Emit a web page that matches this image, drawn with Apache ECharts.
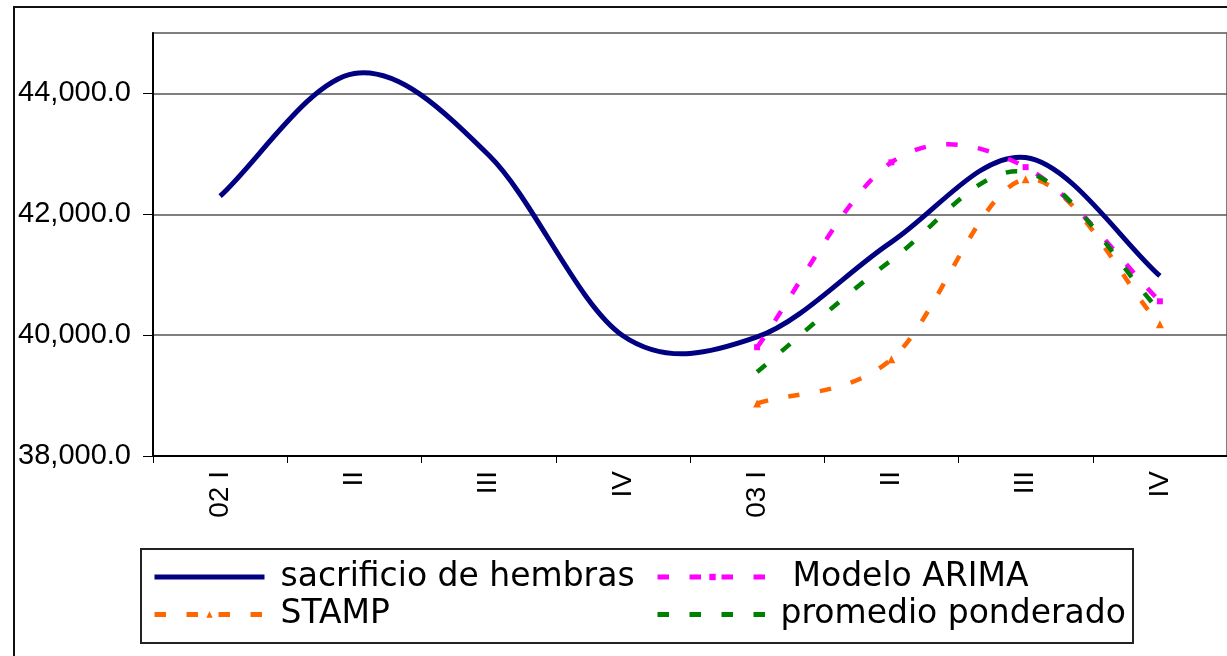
<!DOCTYPE html>
<html><head><meta charset="utf-8">
<script src="https://cdn.jsdelivr.net/npm/echarts@6/dist/echarts.min.js"></script>
<style>html,body{margin:0;padding:0;background:#fff}#c{width:1227px;height:656px}</style>
</head><body><div id="c"></div>
<script>
// ---- data ----
const categories = ['02 I', 'II', 'III', 'IV', '03 I', 'II', 'III', 'IV'];
const sacrificio = [42300, 44330, 42980, 39990, 39970, 41540, 42940, 40980];
const stamp      = [null, null, null, null, 38870, 39600, 42580, 40180];
const arima      = [null, null, null, null, 39800, 42860, 42780, 40560];
const promedio   = [null, null, null, null, 39390, 41240, 42700, 40400];
const yTicks = [38000, 40000, 42000, 44000];
const names = ['sacrificio de hembras', 'STAMP', 'Modelo ARIMA', 'promedio ponderado'];

// ---- styles ----
const colors = ['#000080', '#FF6600', '#FF00FF', '#008000'];
const DASH = [11.5, 20.5];

function fmt(v) {
  return String(Math.round(v)).replace(/\B(?=(\d{3})+(?!\d))/g, ',') + '.0';
}

// Excel-like spline through the data points, drawn through the chart's own scales
function curveSeries(vals, color, width, dash) {
  const pts = [];
  vals.forEach((v, i) => { if (v != null) pts.push([i, v]); });
  return {
    type: 'custom',
    name: '_curve_' + color,
    silent: true,
    z: 2,
    data: pts,
    encode: { x: 0, y: 1 },
    renderItem: function (params, api) {
      if (params.dataIndex !== 0) return null;
      const P = pts.map(d => api.coord(d));
      const n = P.length;
      let d = 'M' + P[0][0] + ',' + P[0][1];
      for (let i = 0; i < n - 1; i++) {
        const p1 = P[i], p2 = P[i + 1];
        let c1x, c1y, c2x, c2y;
        if (i === 0) {
          c1x = p1[0] + (p2[0] - p1[0]) * 0.28; c1y = p1[1] + (p2[1] - p1[1]) * 0.28;
        } else {
          const p0 = P[i - 1];
          c1x = p1[0] + (p2[0] - p0[0]) / 6; c1y = p1[1] + (p2[1] - p0[1]) / 6;
        }
        if (i === n - 2) {
          c2x = p2[0] - (p2[0] - p1[0]) * 0.28; c2y = p2[1] - (p2[1] - p1[1]) * 0.28;
        } else {
          const p3 = P[i + 2];
          c2x = p2[0] - (p3[0] - p1[0]) / 6; c2y = p2[1] - (p3[1] - p1[1]) / 6;
        }
        d += ' C' + c1x + ',' + c1y + ' ' + c2x + ',' + c2y + ' ' + p2[0] + ',' + p2[1];
      }
      return {
        type: 'path',
        shape: { pathData: d },
        style: { fill: 'none', stroke: color, lineWidth: width, lineDash: dash, lineCap: 'butt', lineJoin: 'round' }
      };
    }
  };
}

function pointSeries(name, vals, color, symbol, size, width, dash) {
  return {
    type: 'line',
    name: name,
    data: vals,
    z: 5,
    silent: true,
    symbol: symbol,
    symbolSize: size,
    showSymbol: symbol !== 'none',
    itemStyle: { color: color },
    lineStyle: { color: color, width: width, type: dash, opacity: 0 }
  };
}

const chart = echarts.init(document.getElementById('c'), null, { renderer: 'canvas' });
const legendText = { fontFamily: 'DejaVu Sans', fontSize: 33, color: '#000', lineHeight: 36 };

chart.setOption({
  animation: false,
  backgroundColor: '#fff',
  grid: { left: 153, top: 33, width: 1080, height: 423, show: true, borderColor: '#555', borderWidth: 1.5, backgroundColor: 'transparent' },
  xAxis: {
    type: 'category',
    data: categories,
    boundaryGap: true,
    axisLine: { lineStyle: { color: '#000', width: 2 } },
    axisTick: { show: true, interval: 0, length: 7, lineStyle: { color: '#000', width: 1 } },
    axisLabel: { interval: 0, rotate: 90, margin: 15, fontFamily: 'Liberation Sans', fontSize: 28, color: '#000' },
    splitLine: { show: false }
  },
  yAxis: {
    type: 'value',
    min: 38000,
    max: 45000,
    axisLine: { show: true, lineStyle: { color: '#000', width: 2 } },
    axisTick: { show: true, length: 10, customValues: yTicks, lineStyle: { color: '#000', width: 1 } },
    axisLabel: { customValues: yTicks, formatter: fmt, margin: 22, fontFamily: 'Liberation Sans', fontSize: 29, color: '#000' },
    splitLine: { show: true, lineStyle: { color: '#555', width: 1.5 } }
  },
  legend: [
    {
      orient: 'vertical', left: 152, top: 559, padding: 0, itemGap: 1.5,
      itemWidth: 110, itemHeight: 8, selectedMode: false,
      textStyle: Object.assign({ padding: [0, 0, 0, 11] }, legendText),
      lineStyle: { opacity: 1, width: 5 },
      data: [
        { name: names[0], itemStyle: { opacity: 0 } },
        { name: names[1] }
      ]
    },
    {
      orient: 'vertical', left: 655, top: 559, padding: 0, itemGap: 1.5,
      itemWidth: 110, itemHeight: 8, selectedMode: false,
      textStyle: Object.assign({ padding: [0, 0, 0, 8] }, legendText),
      lineStyle: { opacity: 1, width: 5 },
      data: [
        { name: names[2], textStyle: { padding: [0, 0, 0, 20] } },
        { name: names[3], itemStyle: { opacity: 0 } }
      ]
    }
  ],
  graphic: [
    { type: 'rect', silent: true, shape: { x: 14, y: 7, width: 1400, height: 800 }, style: { fill: 'none', stroke: '#111', lineWidth: 2 } },
    { type: 'rect', silent: true, shape: { x: 141, y: 549, width: 992, height: 94 }, style: { fill: 'none', stroke: '#222', lineWidth: 2 } }
  ],
  series: [
    pointSeries(names[0], sacrificio, colors[0], 'none', 0, 5, 'solid'),
    pointSeries(names[1], stamp, colors[1], 'triangle', 8, 4.5, DASH),
    pointSeries(names[2], arima, colors[2], 'rect', 6, 4.5, DASH),
    pointSeries(names[3], promedio, colors[3], 'none', 0, 4.5, DASH),
    curveSeries(sacrificio, colors[0], 5, null),
    curveSeries(stamp, colors[1], 4.5, DASH),
    curveSeries(arima, colors[2], 4.5, DASH),
    curveSeries(promedio, colors[3], 4.5, DASH)
  ]
});
</script>
</body></html>
